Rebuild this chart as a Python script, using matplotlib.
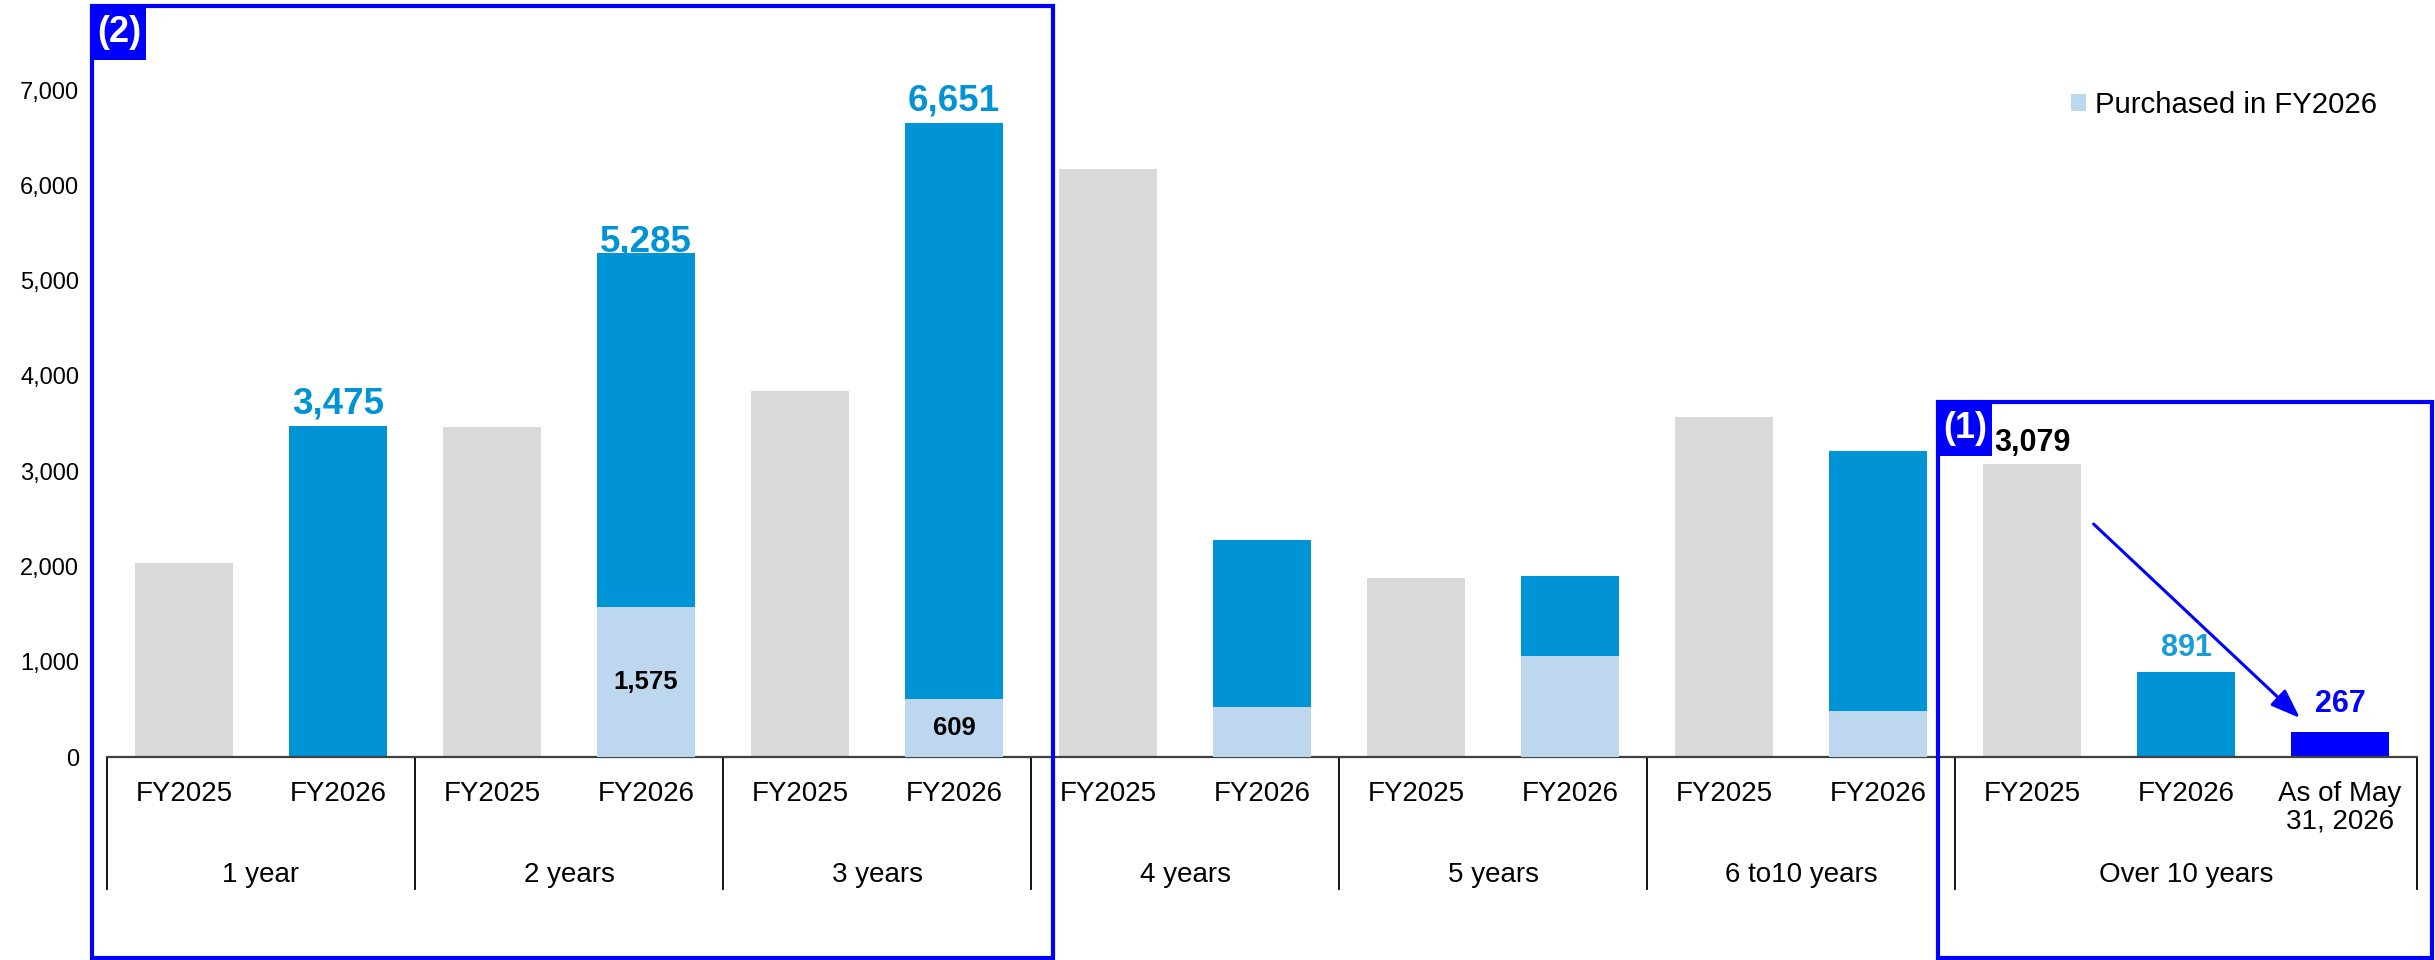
import matplotlib
matplotlib.use("Agg")
import matplotlib.pyplot as plt
from matplotlib.patches import Rectangle
from matplotlib.transforms import blended_transform_factory

plt.rcParams['font.family'] = ['Liberation Sans', 'DejaVu Sans']

# remaining maturity buckets and balances
groups = ['1 year', '2 years', '3 years', '4 years', '5 years', '6 to10 years', 'Over 10 years']
fy2025 = [2035, 3460, 3840, 6170, 1875, 3565, 3079]
fy2026 = [3475, 5285, 6651, 2280, 1900, 3210, 891]
purchased_fy2026 = [0, 1575, 609, 525, 1060, 480, 0]
as_of_may = 267
as_of_label = 'As of May\n31, 2026'

GRAY = '#D9D9D9'
BLUE = '#0093D6'
LIGHT = '#BDD7EE'
VIVID = '#0000FF'

W, H = 2435, 960
fig = plt.figure(figsize=(W / 100, H / 100), dpi=100)
ax = fig.add_axes([107 / W, 203 / H, 2310 / W, 667 / H])

# bar slots: two per bucket, three for the last one
x25 = [2 * i for i in range(len(groups))]
x26 = [2 * i + 1 for i in range(len(groups))]
x_may = x26[-1] + 1
bw = 0.63

ax.bar(x25, fy2025, bw, color=GRAY, zorder=2)
ax.bar(x26, fy2026, bw, color=BLUE, zorder=2)
ax.bar(x26, purchased_fy2026, bw, color=LIGHT, zorder=3, label='Purchased in FY2026')
ax.bar([x_may], [as_of_may], bw, color=VIVID, zorder=2)

ax.set_xlim(-0.5, x_may + 0.5)
ax.set_ylim(0, 7000)
ax.set_yticks(range(0, 7001, 1000))
ax.set_yticklabels([f'{v:,}' for v in range(0, 7001, 1000)], fontsize=17)
ax.tick_params(axis='y', length=0, pad=20)

for s in ['top', 'right', 'left']:
    ax.spines[s].set_visible(False)
ax.spines['bottom'].set_color('#404040')
ax.spines['bottom'].set_linewidth(1.6)

# year labels under every bar
xt = x25 + x26 + [x_may]
xl = ['FY2025'] * len(x25) + ['FY2026'] * len(x26) + [as_of_label]
ax.set_xticks(xt)
ax.set_xticklabels(xl, fontsize=20, linespacing=1.1)
ax.tick_params(axis='x', length=0, pad=17)

# bucket names and separators
tr = ax.get_xaxis_transform()
edges = [-0.5] + [2 * i + 1.5 for i in range(len(groups) - 1)] + [x_may + 0.5]
for e in edges:
    ax.plot([e, e], [0, -132 / 667], transform=tr, color='black', lw=1.3, clip_on=False)
for i, g in enumerate(groups):
    lo, hi = edges[i], edges[i + 1]
    ax.annotate(g, xy=((lo + hi) / 2, 0), xycoords=tr, xytext=(0, -85), textcoords='offset points',
                ha='center', va='center', fontsize=20)

# value labels
big_off = [9, 1.5, 9]
for i in range(3):
    ax.annotate(f'{fy2026[i]:,}', xy=(x26[i], fy2026[i]), xytext=(0, big_off[i]),
                textcoords='offset points', ha='center', va='baseline',
                fontsize=26.5, fontweight='bold', color=BLUE, zorder=5)
for i in (1, 2):
    ax.text(x26[i], purchased_fy2026[i] / 2, f'{purchased_fy2026[i]:,}', ha='center', va='center',
            fontsize=18.5, fontweight='bold', color='black', zorder=5)

ax.annotate(f'{fy2025[-1]:,}', xy=(x25[-1], fy2025[-1]), xytext=(0, 9), textcoords='offset points',
            ha='center', va='baseline', fontsize=22, fontweight='bold', color='black')
ax.annotate(f'{fy2026[-1]:,}', xy=(x26[-1], fy2026[-1]), xytext=(0, 11.5), textcoords='offset points',
            ha='center', va='baseline', fontsize=22, fontweight='bold', color='#1A9CD8')
ax.annotate(f'{as_of_may:,}', xy=(x_may, as_of_may), xytext=(0, 14), textcoords='offset points',
            ha='center', va='baseline', fontsize=22, fontweight='bold', color=VIVID)

# arrow from FY2025 down to the latest balance
ax.annotate('', xy=(13.74, 409), xytext=(12.4, 2445),
            arrowprops=dict(arrowstyle='-|>,head_length=0.6,head_width=0.22', color=VIVID,
                            lw=2.2, mutation_scale=30, shrinkA=0, shrinkB=0))

# highlight frames (1) and (2)
bt = blended_transform_factory(ax.transData, fig.transFigure)
px = 1 / 154


def frame(x0, x1, ytop, tag):
    y0 = 2 / H
    y1 = 1 - ytop / H
    ax.add_patch(Rectangle((x0, y0), x1 - x0, y1 - y0, transform=bt, fill=False,
                           edgecolor=VIVID, lw=3, clip_on=False, zorder=6))
    ax.add_patch(Rectangle((x0, y1 - 54 / H), 54 * px, 54 / H, transform=bt,
                           facecolor=VIVID, edgecolor=VIVID, lw=0, clip_on=False, zorder=6))
    ax.text(x0 + 27 * px, y1 - 27 / H, tag, transform=bt, ha='center', va='center',
            fontsize=26, fontweight='bold', color='white', zorder=7)


frame(-0.597, 5.64, 6, '(2)')
frame(11.39, 14.6, 402, '(1)')

leg = ax.legend(loc='center left', bbox_to_anchor=(2071 / W, 1 - 105 / H),
                bbox_transform=fig.transFigure, frameon=False, fontsize=21.2,
                handlelength=0.5, handleheight=0.5, handletextpad=0.3,
                borderpad=0, borderaxespad=0)

fig.savefig('out.png', dpi=100)
